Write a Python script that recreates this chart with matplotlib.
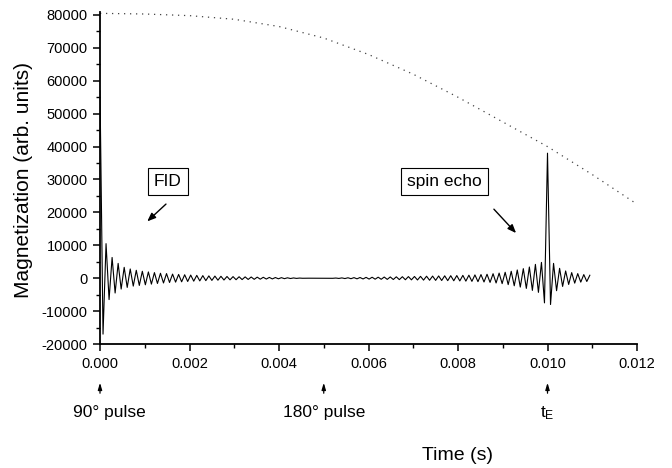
import numpy as np
import matplotlib
matplotlib.use("Agg")
import matplotlib.pyplot as plt
from matplotlib.ticker import MultipleLocator, FormatStrFormatter

plt.rcParams['font.family'] = ['Liberation Sans', 'DejaVu Sans']
plt.rcParams['mathtext.fontset'] = 'custom'
plt.rcParams['mathtext.rm'] = 'Liberation Sans'

# ---- data ----
# time of echo (s) and number of signal half-periods up to it
echo_time = 0.010
half_periods_to_echo = 148

# successive extrema of the magnetization signal (arb. units), one per half-period
signal_extrema = [
    57000, -17000, 10500, -6500, 6300, -4500, 4500, -3300, 3300, -2800,
    2800, -2400, 2400, -2200, 2100, -2000, 1900, -1800, 1700, -1600,
    1500, -1450, 1400, -1300, 1250, -1200, 1150, -1100, 1050, -1000,
    950, -900, 860, -820, 780, -740, 700, -670, 640, -610,
    580, -550, 520, -500, 480, -460, 440, -420, 400, -380,
    360, -340, 320, -300, 280, -260, 240, -220, 200, -180,
    160, -140, 120, -100, 80, -60, 40, -20, 0, 0,
    0, 0, 0, 0, 0, 0, 0, -30, 50, -70,
    90, -110, 130, -150, 170, -190, 210, -230, 250, -270,
    290, -300, 310, -330, 350, -360, 380, -400, 420, -430,
    450, -470, 490, -500, 520, -540, 560, -580, 600, -620,
    640, -660, 680, -700, 720, -740, 760, -780, 800, -830,
    860, -890, 920, -960, 1000, -1050, 1100, -1150, 1200, -1280,
    1360, -1450, 1550, -1650, 1800, -1950, 2100, -2300, 2500, -2700,
    2900, -3100, 3400, -3700, 4200, -4300, 4800, -7500, 38000, -8000,
    4500, -3800, 3000, -2500, 2200, -1900, 1700, -1500, 1400, -1200,
    1100, -1000, 900,
]

# dotted T2 decay envelope
envelope_t = [0.000, 0.001, 0.002, 0.003, 0.004, 0.005, 0.006,
              0.007, 0.008, 0.009, 0.010, 0.011, 0.012]
envelope_m = [80500, 80300, 79800, 78700, 76500, 73000, 68000,
              62000, 55000, 47500, 40000, 31500, 22500]

x_ticks = [0.000, 0.002, 0.004, 0.006, 0.008, 0.010, 0.012]
y_ticks = [-20000, -10000, 0, 10000, 20000, 30000, 40000, 50000, 60000, 70000, 80000]

pulse_times = [0.0, 0.005, 0.010]
pulse_labels = ['90\u00b0 pulse', '180\u00b0 pulse', r'$\mathregular{t_E}$']

# ---- figure ----
W, H = 672, 468
fig = plt.figure(figsize=(W / 100, H / 100), dpi=100)
ax = fig.add_axes([100 / W, 1 - 344 / H, (637 - 100) / W, (344 - 11.7) / H])

dt = echo_time / half_periods_to_echo
t_sig = np.arange(len(signal_extrema)) * dt
ax.plot(t_sig, signal_extrema, color='black', lw=0.8)
ax.plot(envelope_t, envelope_m, color='#444444', lw=0.9, linestyle=(0, (1, 3.8)))

ax.set_xlim(0, 0.012)
ax.set_ylim(-20000, 81000)
ax.set_xticks(x_ticks)
ax.set_yticks(y_ticks)
ax.xaxis.set_major_formatter(FormatStrFormatter('%.3f'))
ax.yaxis.set_major_formatter(FormatStrFormatter('%d'))
ax.xaxis.set_minor_locator(MultipleLocator(0.001))
ax.yaxis.set_minor_locator(MultipleLocator(5000))
for s in ['top', 'right']:
    ax.spines[s].set_visible(False)
for s in ['left', 'bottom']:
    ax.spines[s].set_linewidth(1.3)
ax.tick_params(which='major', direction='out', length=5, width=1.1, labelsize=10.5, pad=4)
ax.tick_params(which='minor', direction='out', length=3, width=1.0)

# annotation boxes and arrows
box = dict(boxstyle='square,pad=0.35', fc='white', ec='black', lw=0.8)
ax.text(0.00152, 29500, 'FID', ha='center', va='center', fontsize=12.5, bbox=box)
ax.text(0.00769, 29500, 'spin echo', ha='center', va='center', fontsize=12.5, bbox=box)
arrowprops = dict(arrowstyle='-|>,head_length=0.5,head_width=0.2', color='black', lw=1.0)
ax.annotate('', xy=(0.00101, 16700), xytext=(0.00152, 23100), arrowprops=arrowprops)
ax.annotate('', xy=(0.00934, 13100), xytext=(0.00876, 21600), arrowprops=arrowprops)

# pulse markers below the axis
small_arrow = dict(arrowstyle='-|>,head_length=0.4,head_width=0.12', color='black', lw=0.9)
label_dx = [0.0002, 0.0, 0.0]
for tp, lab, dx in zip(pulse_times, pulse_labels, label_dx):
    ax.annotate('', xy=(tp, 1 - 380 / H), xycoords=('data', 'figure fraction'),
                xytext=(tp, 1 - 396 / H), textcoords=('data', 'figure fraction'),
                arrowprops=small_arrow, annotation_clip=False)
    ax.annotate(lab, xy=(tp + dx, 1 - 413 / H), xycoords=('data', 'figure fraction'),
                ha='center', va='center', fontsize=12.5, annotation_clip=False)

ax.annotate('Time (s)', xy=(0.0080, 1 - 455 / H), xycoords=('data', 'figure fraction'),
            ha='center', va='center', fontsize=14, annotation_clip=False)
fig.text(24 / W, 1 - 180 / H, 'Magnetization (arb. units)', rotation=90,
         ha='center', va='center', fontsize=15)

fig.savefig('out.png', dpi=100)
